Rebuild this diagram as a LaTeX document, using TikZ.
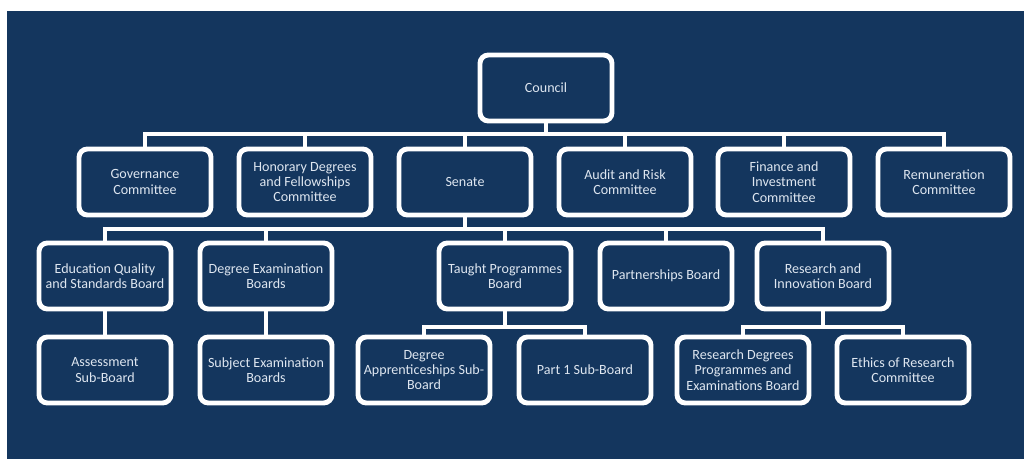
\documentclass[tikz,border=0pt]{standalone}
\usepackage{fontspec}
\setmainfont{Carlito}
\usepackage{xcolor}
\definecolor{navy}{RGB}{20,54,94}
\definecolor{txt}{RGB}{222,230,240}
\begin{document}
\begin{tikzpicture}[x=0.025cm,y=-0.025cm]%
  \tikzstyle{boxn}=[rectangle,rounded corners=6pt,draw=white,line width=3.5pt,fill=navy,text=txt,minimum width=3.3cm,minimum height=1.65cm,align=center,inner sep=1pt,font=\fontsize{10}{10.8}\selectfont]
  \tikzstyle{linkn}=[draw=white,line width=3.2pt]
  \useasboundingbox[fill=white] (0,0) rectangle (1024,459);
  \fill[navy] (7,11) rectangle (1024,459);
  \coordinate(bar1) at (0,134);
  \coordinate(bar2) at (0,229);
  \coordinate(bar3) at (0,327);
  \node(coun)[boxn] at (546,88) {Council};
  \node(gov)[boxn] at (145,182) {Governance\\Committee};
  \node(hon)[boxn] at (305,182) {Honorary Degrees\\and Fellowships\\Committee};
  \node(sen)[boxn] at (465,182) {Senate};
  \node(aud)[boxn] at (625,182) {Audit and Risk\\Committee};
  \node(fin)[boxn] at (784,182) {Finance and\\Investment\\Committee};
  \node(rem)[boxn] at (944,182) {Remuneration\\Committee};
  \node(edu)[boxn] at (105,276) {Education Quality\\and Standards Board};
  \node(dex)[boxn] at (266,276) {Degree Examination\\Boards};
  \node(tau)[boxn] at (505,276) {Taught Programmes\\Board};
  \node(par)[boxn] at (666,276) {Partnerships Board};
  \node(rib)[boxn] at (823,276) {Research and\\Innovation Board};
  \node(ass)[boxn] at (105,370) {Assessment\\Sub-Board};
  \node(sub)[boxn] at (266,370) {Subject Examination\\Boards};
  \node(app)[boxn] at (424,370) {Degree\\Apprenticeships Sub-\\Board};
  \node(pt1)[boxn] at (585,370) {Part 1 Sub-Board};
  \node(rdp)[boxn] at (743,370) {Research Degrees\\Programmes and\\Examinations Board};
  \node(eth)[boxn] at (903,370) {Ethics of Research\\Committee};
  \foreach \c in {gov,hon,sen,aud,fin,rem}
    \draw[linkn] (coun.south) |- (\c.north |- bar1) -- (\c.north);
  \foreach \c in {edu,dex,tau,par,rib}
    \draw[linkn] (sen.south) |- (\c.north |- bar2) -- (\c.north);
  \draw[linkn] (edu.south) -- (ass.north);
  \draw[linkn] (dex.south) -- (sub.north);
  \foreach \c in {app,pt1}
    \draw[linkn] (tau.south) |- (\c.north |- bar3) -- (\c.north);
  \foreach \c in {rdp,eth}
    \draw[linkn] (rib.south) |- (\c.north |- bar3) -- (\c.north);
\end{tikzpicture}
\end{document}
